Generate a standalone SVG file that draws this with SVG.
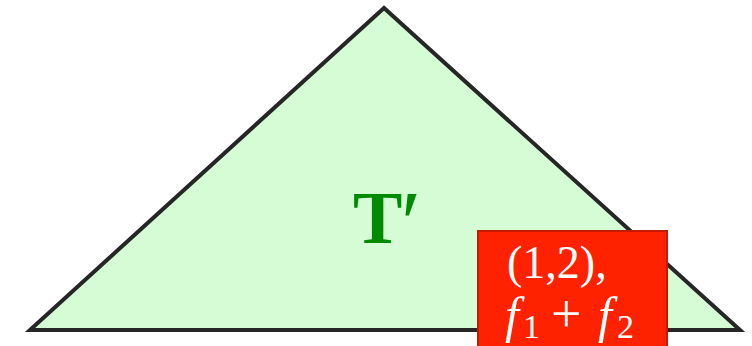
<svg xmlns="http://www.w3.org/2000/svg" width="752" height="346" viewBox="0 0 752 346">
<style>
.tri{fill:#d5fcd5;stroke:#262626;stroke-width:4;stroke-linejoin:miter}
.lbl{font-family:"Liberation Serif",serif;font-weight:bold;fill:#008a00}
.box{fill:#ff2200;stroke:#c41a00;stroke-width:2}
.btxt{font-family:"Liberation Serif",serif;fill:#ffffff}
</style>
<rect width="752" height="346" fill="#ffffff"/>
<g id="tree">
<polygon class="tri" points="384,8 30,330 740,330"/>
<text class="lbl" x="353" y="243" font-size="74">T<tspan font-weight="normal" font-size="92" x="401" y="254">′</tspan></text>
</g>
<g id="tag">
<rect class="box" x="478" y="231" width="189" height="118"/>
<text class="btxt" x="507" y="278" font-size="46">(1,2),</text>
<text class="btxt" y="332" font-size="50"><tspan font-style="italic" x="505">f</tspan><tspan font-size="34" x="523" y="338">1</tspan><tspan font-size="54" x="551" y="332">+</tspan><tspan font-style="italic" x="598">f</tspan><tspan font-size="34" x="617" y="338">2</tspan></text>
</g>
</svg>
